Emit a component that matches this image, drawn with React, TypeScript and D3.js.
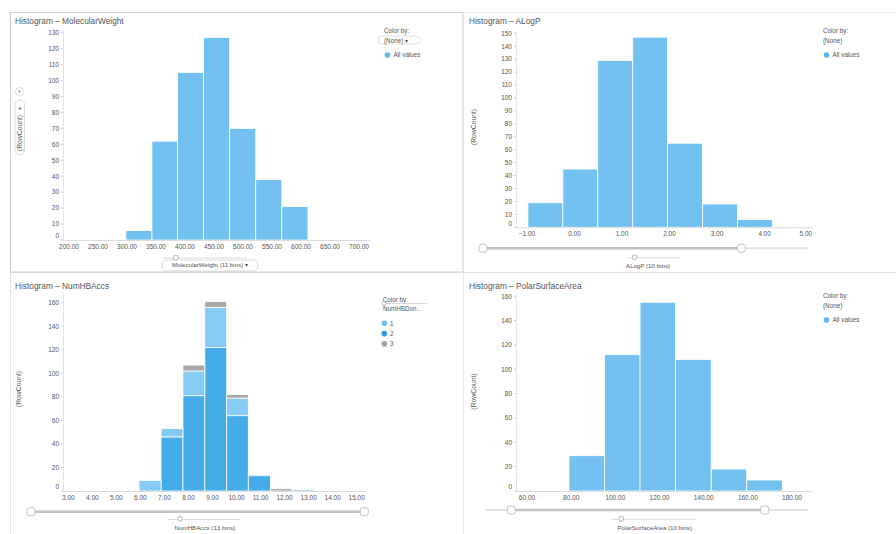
import React from 'react';
import * as d3 from 'd3';

// ---------- DATA ----------
const mwEdges = [298, 343, 387, 432, 477, 522, 567, 612];
const mwCounts = [6, 62, 105, 127, 70, 38, 21];
const mwXTicks = [200, 250, 300, 350, 400, 450, 500, 550, 600, 650, 700];
const mwYTicks = [0, 10, 20, 30, 40, 50, 60, 70, 80, 90, 100, 110, 120, 130];

const alogpEdges = [-0.98, -0.245, 0.49, 1.225, 1.96, 2.695, 3.43, 4.165];
const alogpCounts = [19, 45, 129, 147, 65, 18, 6];
const alogpXTicks = [-1, 0, 1, 2, 3, 4, 5];
const alogpYTicks = [0, 10, 20, 30, 40, 50, 60, 70, 80, 90, 100, 110, 120, 130, 140, 150];

const nhbEdges = [5.94, 6.86, 7.77, 8.68, 9.59, 10.49, 11.41, 12.31, 13.22];
const nhbDon2 = [0, 46, 81, 122, 64, 13, 0, 1];
const nhbDon1 = [9, 7, 21, 34, 15, 1, 0, 0];
const nhbDon3 = [0, 0, 5, 5, 3, 0, 2, 0];
const nhbXTicks = [3, 4, 5, 6, 7, 8, 9, 10, 11, 12, 13, 14, 15];
const nhbYTicks = [0, 20, 40, 60, 80, 100, 120, 140, 160];
const nhbLegend = ['1', '2', '3'];

const psaEdges = [79, 95.1, 111.2, 127.3, 143.4, 159.5, 175.6];
const psaCounts = [29, 112, 155, 108, 18, 9];
const psaXTicks = [60, 80, 100, 120, 140, 160, 180];
const psaYTicks = [0, 20, 40, 60, 80, 100, 120, 140, 160];

// ---------- STYLE ----------
const FONT = '"Liberation Sans", Arial, sans-serif';
const BAR = '#73c1f1';
const DOT = '#5fb4ea';
const C1 = '#86cbf4';
const C2 = '#45acea';
const C3 = '#a8a8a8';
const TXT = '#555';

type Layout = {
  title: [number, number];
  titleText: string;
  xRange: [number, number];
  xDomain: [number, number];
  axis: [number, number];
  y0: number;
  yTop: number;
  yMax: number;
  yLabelX: number;
  yLabelY: number;
};

function Histogram({ L, edges, layers, colors, xTicks, yTicks }: {
  L: Layout; edges: number[]; layers: number[][]; colors: string[]; xTicks: number[]; yTicks: number[];
}) {
  const x = d3.scaleLinear().domain(L.xDomain).range(L.xRange);
  const y = d3.scaleLinear().domain([0, L.yMax]).range([L.y0, L.yTop]);
  const keys = layers.map((_, i) => 'k' + i);
  const rows = layers[0].map((_, j) => {
    const r: any = { j };
    layers.forEach((l, i) => (r['k' + i] = l[j]));
    return r;
  });
  const stacked = d3.stack<any>().keys(keys)(rows);
  const fmt = d3.format('.2f');
  return (
    <g>
      <text x={L.title[0]} y={L.title[1]} fontSize={8.3} fill={TXT}>{L.titleText}</text>
      {stacked.map((s, i) => (
        <g key={i}>
          {s.map((d, j) => (d[1] - d[0] > 0 ? (
            <rect key={j} x={x(edges[j])} width={x(edges[j + 1]) - x(edges[j])}
              y={y(d[1])} height={y(d[0]) - y(d[1])} fill={colors[i]} stroke="#fff" strokeWidth={0.8} />
          ) : null))}
        </g>
      ))}
      <line x1={L.axis[0]} x2={L.axis[1]} y1={L.y0 + 0.5} y2={L.y0 + 0.5} stroke="#dcdcdc" />
      <line x1={L.axis[0] + 0.5} x2={L.axis[0] + 0.5} y1={L.yTop} y2={L.y0} stroke="#e4e4e4" />
      {yTicks.map(t => (
        <g key={t}>
          <line x1={L.axis[0] - 2} x2={L.axis[0]} y1={y(t)} y2={y(t)} stroke="#ccc" />
          <text x={L.axis[0] - 4} y={y(t) + 2.3 - (t === 0 ? 4 : 0)} fontSize={6.5} fill={TXT} textAnchor="end">{t}</text>
        </g>
      ))}
      {xTicks.map(t => {
        const label = fmt(t);
        const half = label.length * 1.8;
        const cx = Math.max(Math.min(x(t), L.axis[1] - half), L.axis[0] - half);
        return <text key={t} x={cx} y={L.y0 + 9} fontSize={6.5} fill={TXT} textAnchor="middle">{label}</text>;
      })}
      <text transform={`translate(${L.yLabelX},${L.yLabelY}) rotate(-90)`} fontSize={6.8} fill={TXT} textAnchor="middle">(RowCount)</text>
    </g>
  );
}

function RangeSlider({ x0, x1, h0, h1, y }: { x0: number; x1: number; h0: number; h1: number; y: number }) {
  return (
    <g>
      <line x1={x0} x2={x1} y1={y} y2={y} stroke="#e2e2e2" strokeWidth={2} />
      <line x1={h0} x2={h1} y1={y} y2={y} stroke="#c4c4c4" strokeWidth={2.6} />
      {[h0, h1].map((h, i) => (
        <rect key={i} x={h - 4} y={y - 4} width={8} height={8} rx={2.5} fill="#fff" stroke="#b5b5b5" strokeWidth={0.8} />
      ))}
    </g>
  );
}

function BinSlider({ x0, x1, thumb, y, label, lx, ly, pill }: {
  x0: number; x1: number; thumb: number; y: number; label: string; lx: number; ly: number; pill?: [number, number, number, number];
}) {
  return (
    <g>
      <line x1={x0} x2={x1} y1={y} y2={y} stroke="#cfcfcf" strokeWidth={0.8} />
      <circle cx={thumb} cy={y - 0.5} r={2.4} fill="#fff" stroke="#9a9a9a" strokeWidth={0.7} />
      {pill && <rect x={pill[0]} y={pill[1]} width={pill[2]} height={pill[3]} rx={5} fill="#fff" stroke="#d2d2d2" strokeWidth={0.8} />}
      <text x={lx} y={ly} fontSize={6.2} fill={TXT} textAnchor="middle">{label}</text>
    </g>
  );
}

function LegendAll({ x, y, pill }: { x: number; y: number; pill?: boolean }) {
  return (
    <g fontSize={6.3} fill={TXT}>
      <text x={x} y={y}>Color by:</text>
      {pill && <rect x={x - 6} y={y + 3.5} width={42} height={8} rx={4} fill="#fff" stroke="#d5d5d5" strokeWidth={0.8} />}
      <text x={x} y={y + 10}>{pill ? '(None)  \u25BE' : '(None)'}</text>
      <circle cx={x + 3.5} cy={y + 22.5} r={2.8} fill={DOT} />
      <text x={x + 9.5} y={y + 24.8}>All values</text>
    </g>
  );
}

const L1: Layout = { title: [15, 24], titleText: 'Histogram \u2013 MolecularWeight', xRange: [69, 359], xDomain: [200, 700], axis: [63, 371], y0: 240, yTop: 30, yMax: 131.7, yLabelX: 22.3, yLabelY: 133 };
const L2: Layout = { title: [469, 24], titleText: 'Histogram \u2013 ALogP', xRange: [527, 812], xDomain: [-1, 5], axis: [516, 813], y0: 227.3, yTop: 30.7, yMax: 152, yLabelX: 475.5, yLabelY: 127 };
const L3: Layout = { title: [15, 289], titleText: 'Histogram \u2013 NumHBAccs', xRange: [68.3, 356.7], xDomain: [3, 15], axis: [63, 367], y0: 491, yTop: 293.3, yMax: 168, yLabelX: 21, yLabelY: 389 };
const L4: Layout = { title: [469, 289], titleText: 'Histogram \u2013 PolarSurfaceArea', xRange: [527, 792], xDomain: [60, 180], axis: [516, 813], y0: 491, yTop: 295, yMax: 161, yLabelX: 476, yLabelY: 391.5 };

export default function App() {
  return (
    <svg width={896} height={534} style={{ position: 'absolute', left: 0, top: 0, background: '#fff' }} fontFamily={FONT}>
      <rect x={0} y={0} width={896} height={534} fill="#fff" />
      {/* panel frames */}
      <line x1={463} x2={896} y1={12.5} y2={12.5} stroke="#ececec" />
      <line x1={10} x2={896} y1={272.5} y2={272.5} stroke="#e2e2e2" />
      <line x1={463.5} x2={463.5} y1={272} y2={534} stroke="#e6e6e6" />
      <line x1={10.5} x2={10.5} y1={272} y2={534} stroke="#e6e6e6" />
      <rect x={10.5} y={12.5} width={452.5} height={259.5} fill="none" stroke="#cfcfcf" />

      {/* Panel 1 controls behind text */}
      <circle cx={19.5} cy={91.5} r={4} fill="#fff" stroke="#d0d0d0" strokeWidth={0.8} />
      <text x={19.5} y={93.8} fontSize={6.5} fill="#777" textAnchor="middle">+</text>
      <rect x={15} y={100} width={9.5} height={55} rx={4.7} fill="#fff" stroke="#d0d0d0" strokeWidth={0.8} />
      <text transform="translate(22.3,108) rotate(-90)" fontSize={5.5} fill="#777" textAnchor="middle">{'\u25BE'}</text>

      {/* Panel 1 */}
      <Histogram L={L1} edges={mwEdges} layers={[mwCounts]} colors={[BAR]} xTicks={mwXTicks} yTicks={mwYTicks} />
      <BinSlider x0={163} x1={247} thumb={175.7} y={258} label={'MolecularWeight (11 bins)  \u25BE'} lx={210} ly={267.3} pill={[162, 260, 96, 11]} />
      <LegendAll x={384} y={32.5} pill />

      {/* Panel 2 */}
      <Histogram L={L2} edges={alogpEdges} layers={[alogpCounts]} colors={[BAR]} xTicks={alogpXTicks} yTicks={alogpYTicks} />
      <RangeSlider x0={483} x1={808} h0={483} h1={741.3} y={248.3} />
      <BinSlider x0={628} x1={681} thumb={634.7} y={257.7} label="ALogP (10 bins)" lx={648} ly={267.5} />
      <LegendAll x={823} y={32.5} />

      {/* Panel 3 */}
      <Histogram L={L3} edges={nhbEdges} layers={[nhbDon2, nhbDon1, nhbDon3]} colors={[C2, C1, C3]} xTicks={nhbXTicks} yTicks={nhbYTicks} />
      <RangeSlider x0={31} x1={364.3} h0={31} h1={364.3} y={511.7} />
      <BinSlider x0={168} x1={240} thumb={180} y={519.3} label="NumHBAccs (13 bins)" lx={205} ly={530} />
      <g fontSize={6.3} fill={TXT}>
        <text x={382.7} y={302}>Color by:</text>
        <line x1={383} x2={427} y1={303.5} y2={303.5} stroke="#cfcfcf" strokeWidth={0.8} />
        <circle cx={384} cy={303.5} r={2} fill="#fff" stroke="#9a9a9a" strokeWidth={0.7} />
        <text x={383} y={310.8}>NumHBDon...</text>
        {nhbLegend.map((k, i) => (
          <g key={k}>
            <circle cx={384.3} cy={323.3 + i * 10.3} r={2.8} fill={['#6cbdf0', '#2a9be0', '#a3a3a3'][i]} />
            <text x={390} y={325.6 + i * 10.3}>{k}</text>
          </g>
        ))}
      </g>

      {/* Panel 4 */}
      <Histogram L={L4} edges={psaEdges} layers={[psaCounts]} colors={[BAR]} xTicks={psaXTicks} yTicks={psaYTicks} />
      <RangeSlider x0={486} x1={808} h0={511.3} h1={764.7} y={510} />
      <BinSlider x0={611} x1={696} thumb={621.3} y={519.3} label="PolarSurfaceArea (10 bins)" lx={654.7} ly={530} />
      <LegendAll x={823} y={297.5} />
    </svg>
  );
}
